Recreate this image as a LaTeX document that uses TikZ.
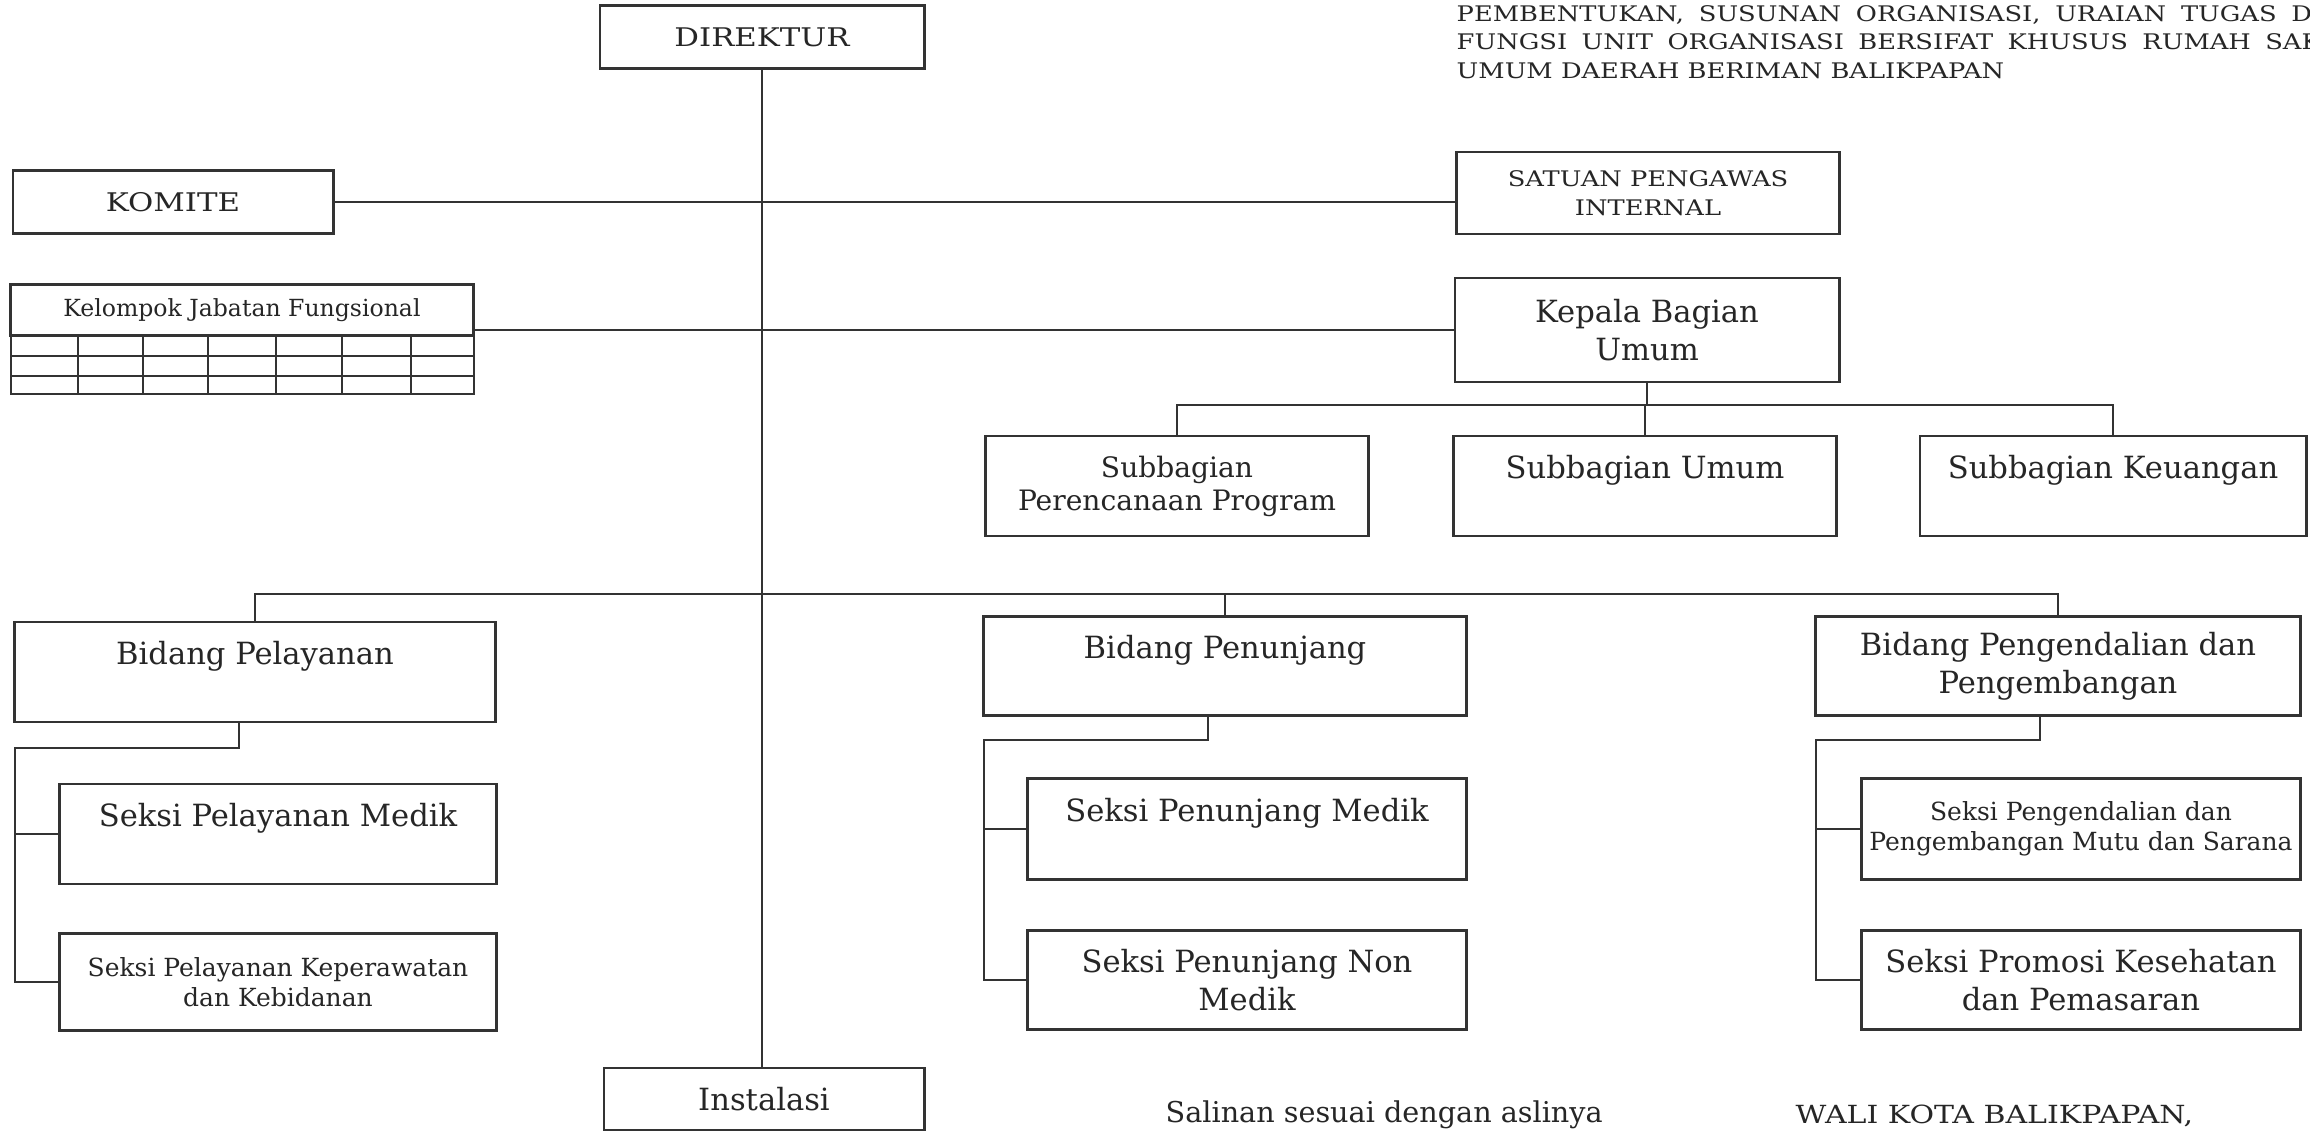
\documentclass[tikz,border=0pt]{standalone}
\usepackage{fontspec}
\setmainfont{DejaVu Serif}
\newfontfamily\capsfont[FakeStretch=1.2]{DejaVu Serif}
\usetikzlibrary{calc}

\tikzset{
  unit/.style={draw=black!80, line width=0.8pt, text=black!85, align=center, inner sep=0pt},
  link/.style={draw=black!80, line width=0.7pt},
  grid/.style={draw=black!80, line width=0.6pt},
  big/.style={font=\fontsize{8.7}{10.8}\selectfont},
  mid/.style={font=\fontsize{8}{9.4}\selectfont},
  small/.style={font=\fontsize{7.1}{8.6}\selectfont},
  tiny/.style={font=\fontsize{6.7}{7.5}\selectfont},
  capsbig/.style={font=\capsfont\fontsize{7.3}{9}\selectfont},
  capssmall/.style={font=\capsfont\fontsize{6.1}{8.2}\selectfont},
  raised/.style={text depth=0.38cm},
  plain/.style={text=black!85, inner sep=0pt}
}

\begin{document}
\begin{tikzpicture}[x=0.01cm, y=-0.01cm]
  \useasboundingbox[fill=white] (0,0) rectangle (2310,1131);

  % heading
  \node[plain, capssmall, anchor=base west] (h1) at (1456,22) {\spaceskip=4.2pt PEMBENTUKAN, SUSUNAN ORGANISASI, URAIAN TUGAS DAN};
  \node[plain, capssmall, anchor=base west] (h2) at (1456,50) {\spaceskip=4.1pt FUNGSI UNIT ORGANISASI BERSIFAT KHUSUS RUMAH SAKIT};
  \node[plain, capssmall, anchor=base west] (h3) at (1456,79) {UMUM DAERAH BERIMAN BALIKPAPAN};

  \node[unit, capsbig, minimum width=3.24cm, minimum height=0.63cm] (dir) at (762,37) {DIREKTUR};
  \node[unit, capsbig, minimum width=3.20cm, minimum height=0.63cm] (kom) at (173,202) {KOMITE};
  \node[unit, capssmall, minimum width=3.83cm, minimum height=0.82cm] (spi) at (1648,193) {SATUAN PENGAWAS\\INTERNAL};

  % kelompok jabatan fungsional
  \node[unit, tiny, minimum width=4.63cm, minimum height=0.51cm] (kjf) at (242,310) {Kelompok Jabatan Fungsional};
  \draw[grid] (11,336) rectangle (474,394);
  \foreach \y in {356,376}
    \draw[grid] (11,\y) -- (474,\y);
  \foreach \x in {78,143,208,276,342,411}
    \draw[grid] (\x,336) -- (\x,394);

  \node[unit, big, minimum width=3.84cm, minimum height=1.04cm] (kbu) at (1647,330) {Kepala Bagian\\Umum};
  \node[unit, mid, minimum width=3.83cm, minimum height=1.00cm] (spp) at (1177,486) {Subbagian\\Perencanaan Program};
  \node[unit, big, raised, minimum width=3.83cm, minimum height=1.00cm] (su) at (1645,486) {Subbagian Umum};
  \node[unit, big, raised, minimum width=3.86cm, minimum height=1.00cm] (sk) at (2113,486) {Subbagian Keuangan};

  \node[unit, big, raised, minimum width=4.81cm, minimum height=1.00cm] (bp) at (255,672) {Bidang Pelayanan};
  \node[unit, big, raised, minimum width=4.83cm, minimum height=0.99cm] (bpn) at (1225,666) {Bidang Penunjang};
  \node[unit, big, minimum width=4.85cm, minimum height=0.99cm] (bpp) at (2058,666) {Bidang Pengendalian dan\\Pengembangan};

  \node[unit, big, raised, minimum width=4.36cm, minimum height=1.00cm] (spm) at (278,834) {Seksi Pelayanan Medik};
  \node[unit, small, minimum width=4.36cm, minimum height=0.97cm] (spk) at (278,982) {Seksi Pelayanan Keperawatan\\dan Kebidanan};
  \node[unit, big, raised, minimum width=4.39cm, minimum height=1.01cm] (snm) at (1247,829) {Seksi Penunjang Medik};
  \node[unit, big, minimum width=4.39cm, minimum height=0.99cm] (snn) at (1247,980) {Seksi Penunjang Non\\Medik};
  \node[unit, small, minimum width=4.39cm, minimum height=1.01cm] (sms) at (2081,829) {Seksi Pengendalian dan\\Pengembangan Mutu dan Sarana};
  \node[unit, big, minimum width=4.39cm, minimum height=0.99cm] (spr) at (2081,980) {Seksi Promosi Kesehatan\\dan Pemasaran};

  \node[unit, big, minimum width=3.20cm, minimum height=0.62cm] (inst) at (764,1099) {Instalasi};

  \node[plain, font=\fontsize{8.15}{10}\selectfont, anchor=base west] (sal) at (1165,1122) {Salinan sesuai dengan aslinya};
  \node[plain, font=\capsfont\fontsize{7.1}{9}\selectfont, anchor=base west] (wali) at (1795,1123) {WALI KOTA BALIKPAPAN,};

  % connectors
  \draw[link] (dir.south) -- (dir.south |- inst.north);
  \draw[link] (kom.east) -- (kom.east -| spi.west);
  \draw[link] (kbu.west) -- (kbu.west -| kjf.east);

  \coordinate (kbuj) at (1647,405);
  \draw[link] (kbu.south) -- (kbuj);
  \draw[link] (spp.north) |- (kbuj) -| (sk.north);
  \draw[link] (su.north) -- (su.north |- kbuj);

  \coordinate (bar) at (763,594);
  \draw[link] (bp.north) |- (bar) -| (bpp.north);
  \draw[link] (bpn.north) -- (bpn.north |- bar);

  \coordinate (bpj) at (239,748);
  \coordinate (bpl) at (15,748);
  \draw[link] (bp.south -| bpj) -- (bpj) -- (bpl) |- (spk.west);
  \draw[link] (spm.west) -- (spm.west -| bpl);

  \coordinate (bnj) at (1208,740);
  \coordinate (bnl) at (984,740);
  \draw[link] (bpn.south -| bnj) -- (bnj) -- (bnl) |- (snn.west);
  \draw[link] (snm.west) -- (snm.west -| bnl);

  \coordinate (bqj) at (2040,740);
  \coordinate (bql) at (1816,740);
  \draw[link] (bpp.south -| bqj) -- (bqj) -- (bql) |- (spr.west);
  \draw[link] (sms.west) -- (sms.west -| bql);
\end{tikzpicture}
\end{document}
